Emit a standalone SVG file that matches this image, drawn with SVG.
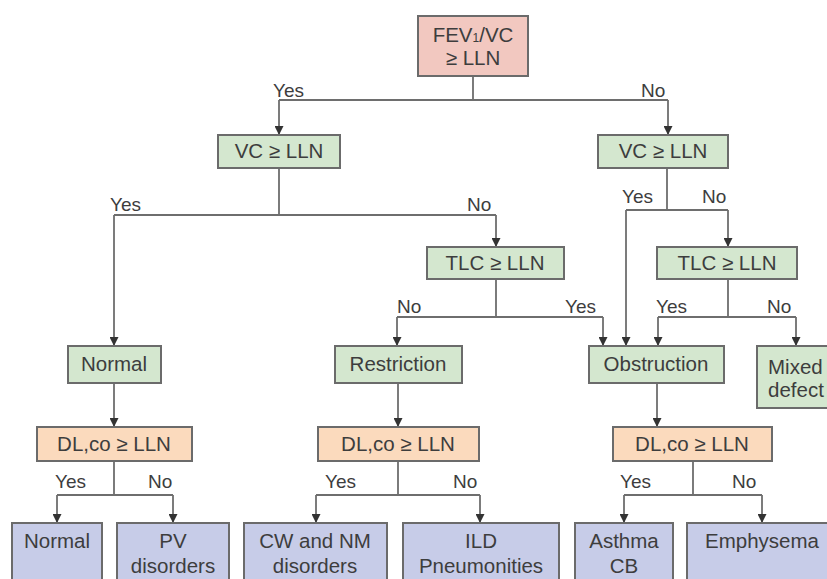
<svg xmlns="http://www.w3.org/2000/svg" width="827" height="579" viewBox="0 0 827 579">
<defs>
<style>
.box{stroke:#6b6b6b;stroke-width:2}
.pink{fill:#f2c8c0}
.green{fill:#d4e7cf}
.orange{fill:#fbdabd}
.blue{fill:#c7cce8}
text{font-family:"Liberation Sans",Arial,sans-serif;fill:#3d3d3d}
.t{font-size:20.5px;text-anchor:middle}
.l{font-size:19px}
.c{fill:none;stroke:#6e6e6e;stroke-width:1.8}
</style>
<marker id="ah" viewBox="0 0 10 10" refX="10" refY="5" markerWidth="10" markerHeight="9" markerUnits="userSpaceOnUse" orient="auto">
<path d="M0,0 L10,5 L0,10 Z" fill="#333"/>
</marker>
</defs>
<rect width="827" height="579" fill="#ffffff"/>

<g id="connectors">
<path class="c" d="M473,76 V100 M279,100 H668"/>
<path class="c" d="M279,100 V135" marker-end="url(#ah)"/>
<path class="c" d="M668,100 V135" marker-end="url(#ah)"/>
<path class="c" d="M279,168 V215 M114,215 H496"/>
<path class="c" d="M114,215 V346" marker-end="url(#ah)"/>
<path class="c" d="M496,215 V247" marker-end="url(#ah)"/>
<path class="c" d="M667,168 V210 M626,210 H728"/>
<path class="c" d="M728,210 V247" marker-end="url(#ah)"/>
<path class="c" d="M626,210 V346" marker-end="url(#ah)"/>
<path class="c" d="M496,279 V317 M397,317 H603"/>
<path class="c" d="M397,317 V346" marker-end="url(#ah)"/>
<path class="c" d="M603,317 V346" marker-end="url(#ah)"/>
<path class="c" d="M728,279 V317 M658,317 H796"/>
<path class="c" d="M658,317 V346" marker-end="url(#ah)"/>
<path class="c" d="M796,317 V346" marker-end="url(#ah)"/>
<path class="c" d="M114,383 V427" marker-end="url(#ah)"/>
<path class="c" d="M398,383 V427" marker-end="url(#ah)"/>
<path class="c" d="M657,383 V427" marker-end="url(#ah)"/>
<path class="c" d="M114,461 V495 M57,495 H173"/>
<path class="c" d="M57,495 V523" marker-end="url(#ah)"/>
<path class="c" d="M173,495 V523" marker-end="url(#ah)"/>
<path class="c" d="M398,461 V495 M316,495 H480"/>
<path class="c" d="M316,495 V523" marker-end="url(#ah)"/>
<path class="c" d="M480,495 V523" marker-end="url(#ah)"/>
<path class="c" d="M693,461 V495 M624,495 H762"/>
<path class="c" d="M624,495 V523" marker-end="url(#ah)"/>
<path class="c" d="M762,495 V523" marker-end="url(#ah)"/>
</g>

<g id="labels" class="l">
<text x="273" y="97">Yes</text>
<text x="641" y="97">No</text>
<text x="110" y="211">Yes</text>
<text x="467" y="211">No</text>
<text x="622" y="203">Yes</text>
<text x="702" y="203">No</text>
<text x="397" y="313">No</text>
<text x="565" y="313">Yes</text>
<text x="656" y="313">Yes</text>
<text x="767" y="313">No</text>
<text x="55" y="488">Yes</text>
<text x="148" y="488">No</text>
<text x="325" y="488">Yes</text>
<text x="453" y="488">No</text>
<text x="620" y="488">Yes</text>
<text x="732" y="488">No</text>
</g>

<g id="fev1vc">
<rect class="box pink" x="418" y="16" width="110" height="60"/>
<text class="t" x="473" y="42">FEV<tspan font-size="12">1</tspan>/VC</text>
<text class="t" x="473" y="65">≥ LLN</text>
</g>
<g id="vc-left">
<rect class="box green" x="218" y="135" width="122" height="33"/>
<text class="t" x="279" y="158">VC ≥ LLN</text>
</g>
<g id="vc-right">
<rect class="box green" x="598" y="135" width="130" height="33"/>
<text class="t" x="663" y="158">VC ≥ LLN</text>
</g>
<g id="tlc-left">
<rect class="box green" x="427" y="247" width="137" height="32"/>
<text class="t" x="495" y="270">TLC ≥ LLN</text>
</g>
<g id="tlc-right">
<rect class="box green" x="657" y="247" width="140" height="32"/>
<text class="t" x="727" y="270">TLC ≥ LLN</text>
</g>
<g id="normal">
<rect class="box green" x="68" y="346" width="93" height="37"/>
<text class="t" x="114" y="371">Normal</text>
</g>
<g id="restriction">
<rect class="box green" x="335" y="346" width="127" height="37"/>
<text class="t" x="398" y="371">Restriction</text>
</g>
<g id="obstruction">
<rect class="box green" x="589" y="346" width="135" height="37"/>
<text class="t" x="656" y="371">Obstruction</text>
</g>
<g id="mixed">
<rect class="box green" x="757" y="346" width="80" height="62"/>
<text x="768" y="374" font-size="20.5">Mixed</text>
<text x="768" y="397" font-size="20.5">defect</text>
</g>
<g id="dlco-left">
<rect class="box orange" x="37" y="427" width="155" height="34"/>
<text class="t" x="114" y="451">DL,co ≥ LLN</text>
</g>
<g id="dlco-mid">
<rect class="box orange" x="318" y="427" width="161" height="34"/>
<text class="t" x="398" y="451">DL,co ≥ LLN</text>
</g>
<g id="dlco-right">
<rect class="box orange" x="613" y="427" width="159" height="34"/>
<text class="t" x="692" y="451">DL,co ≥ LLN</text>
</g>
<g id="out-normal">
<rect class="box blue" x="12" y="523" width="90" height="70"/>
<text class="t" x="57" y="548">Normal</text>
</g>
<g id="out-pv">
<rect class="box blue" x="117" y="523" width="112" height="70"/>
<text class="t" x="173" y="548">PV</text>
<text class="t" x="173" y="573">disorders</text>
</g>
<g id="out-cw">
<rect class="box blue" x="244" y="523" width="143" height="70"/>
<text class="t" x="315" y="548">CW and NM</text>
<text class="t" x="315" y="573">disorders</text>
</g>
<g id="out-ild">
<rect class="box blue" x="403" y="523" width="156" height="70"/>
<text class="t" x="481" y="548">ILD</text>
<text class="t" x="481" y="573">Pneumonities</text>
</g>
<g id="out-asthma">
<rect class="box blue" x="575" y="523" width="98" height="70"/>
<text class="t" x="624" y="548">Asthma</text>
<text class="t" x="624" y="573">CB</text>
</g>
<g id="out-emph">
<rect class="box blue" x="687" y="523" width="150" height="70"/>
<text class="t" x="762" y="548">Emphysema</text>
</g>
</svg>
